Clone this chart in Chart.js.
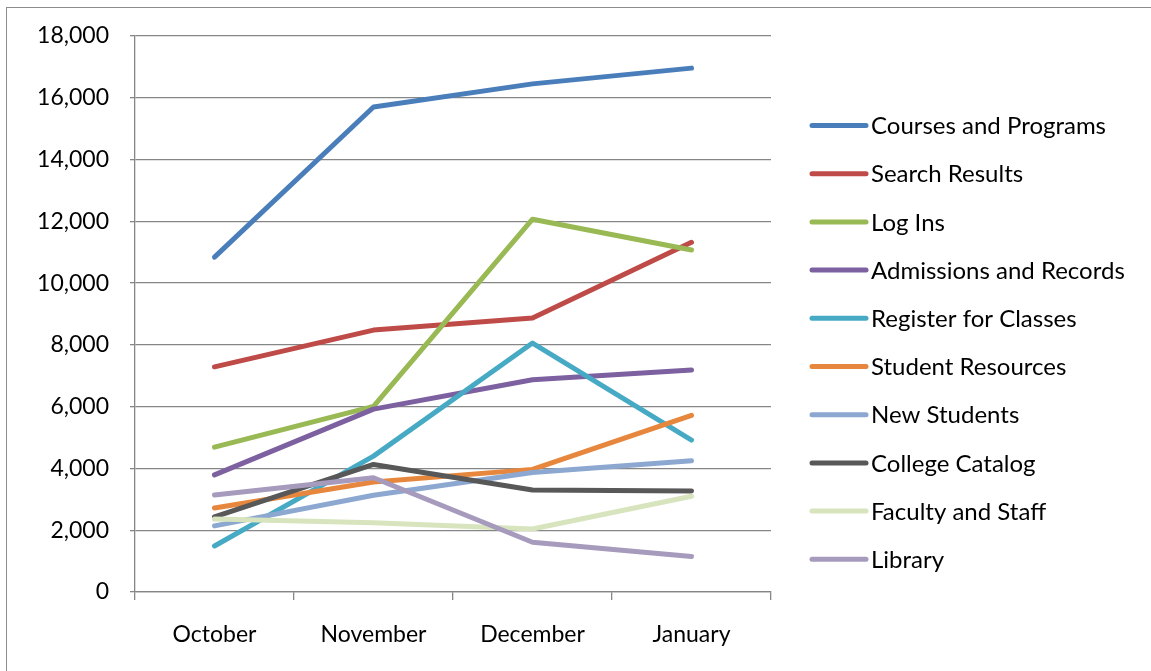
<!DOCTYPE html>
<html>
<head>
<meta charset="utf-8">
<script src="https://cdn.jsdelivr.net/npm/chart.js@4.4.1/dist/chart.umd.min.js"></script>
<style>
    html, body { margin: 0; padding: 0; background: #fff; overflow: hidden; }
    .frame {
        position: absolute;
        left: 6px;
        top: 7px;
        width: 1200px;
        height: 700px;
        border: 1px solid #8c8c8c;
    }
    #wrap { position: absolute; left: 0; top: 0; width: 1151px; height: 671px; }
</style>
</head>
<body>
<div class="frame"></div>
<div id="wrap"><canvas id="trafficChart" width="1151" height="671"></canvas></div>
<script>
// Page views per month
const months = ['October', 'November', 'December', 'January'];

const seriesNames = [
    'Courses and Programs', 'Search Results', 'Log Ins', 'Admissions and Records',
    'Register for Classes', 'Student Resources', 'New Students', 'College Catalog',
    'Faculty and Staff', 'Library'
];

const coursesAndPrograms = [10840, 15700, 16450, 16960];
const searchResults      = [7290, 8480, 8870, 11320];
const logIns             = [4690, 6010, 12070, 11070];
const admissions         = [3790, 5920, 6870, 7190];
const registerClasses    = [1490, 4400, 8060, 4920];
const studentResources   = [2720, 3560, 3970, 5720];
const newStudents        = [2140, 3130, 3870, 4250];
const collegeCatalog     = [2430, 4130, 3300, 3270];
const facultyStaff       = [2360, 2240, 2040, 3100];
const library            = [3140, 3700, 1610, 1150];

const yTicks = [0, 2000, 4000, 6000, 8000, 10000, 12000, 14000, 16000, 18000];

const seriesValues = [
    coursesAndPrograms, searchResults, logIns, admissions, registerClasses,
    studentResources, newStudents, collegeCatalog, facultyStaff, library
];

const seriesColors = [
    '#4a7ebb', '#be4b48', '#98b954', '#7d60a0', '#46aac5',
    '#e6873d', '#8ca8d1', '#585858', '#d7e4bd', '#a69abd'
];

const FONT = "Lato, 'Liberation Sans', sans-serif";

// legend drawn on the right, one row per series
const sideLegend = {
    id: 'sideLegend',
    afterDraw(chart) {
        const ctx = chart.ctx;
        const x0 = 812, lineLen = 54, top = 125.5, step = 48.2;
        ctx.save();
        ctx.font = '24px ' + FONT;
        ctx.textBaseline = 'middle';
        ctx.textAlign = 'left';
        chart.data.datasets.forEach((ds, i) => {
            const y = top + i * step;
            ctx.strokeStyle = ds.borderColor;
            ctx.lineWidth = 5;
            ctx.lineCap = 'round';
            ctx.beginPath();
            ctx.moveTo(x0, y);
            ctx.lineTo(x0 + lineLen, y);
            ctx.stroke();
            ctx.fillStyle = '#000';
            ctx.fillText(ds.label, x0 + lineLen + 5, y + 1);
        });
        ctx.restore();
    }
};

const ctx = document.getElementById('trafficChart');

new Chart(ctx, {
    type: 'line',
    data: {
        labels: months,
        datasets: seriesNames.map((name, i) => ({
            label: name,
            data: seriesValues[i],
            borderColor: seriesColors[i],
            backgroundColor: seriesColors[i],
            borderWidth: 5,
            borderCapStyle: 'round',
            borderJoinStyle: 'round',
            pointRadius: 0,
            tension: 0,
            fill: false,
            order: seriesNames.length - i
        }))
    },
    options: {
        responsive: false,
        animation: false,
        events: [],
        layout: {
            padding: { top: 36, left: 0, right: 380, bottom: 0 }
        },
        plugins: {
            legend: { display: false },
            tooltip: { enabled: false }
        },
        scales: {
            x: {
                offset: true,
                grid: {
                    offset: true,
                    drawOnChartArea: false,
                    drawTicks: true,
                    tickLength: 8,
                    color: '#868686',
                    lineWidth: 1.3
                },
                border: { display: true, color: '#868686', width: 1.3 },
                ticks: {
                    color: '#000',
                    padding: 21,
                    font: { family: FONT, size: 23 }
                },
                afterFit(scale) { scale.height = 79; }
            },
            y: {
                min: 0,
                max: 18000,
                afterBuildTicks(scale) {
                    scale.ticks = yTicks.map(v => ({ value: v }));
                },
                grid: {
                    color: '#868686',
                    lineWidth: 1.3,
                    tickLength: 5
                },
                border: { display: true, color: '#868686', width: 1.3 },
                ticks: {
                    color: '#000',
                    padding: 21,
                    font: { family: FONT, size: 23 },
                    callback: v => v.toLocaleString('en-US')
                },
                afterFit(scale) { scale.width = 135; }
            }
        }
    },
    plugins: [sideLegend]
});
</script>
</body>
</html>
